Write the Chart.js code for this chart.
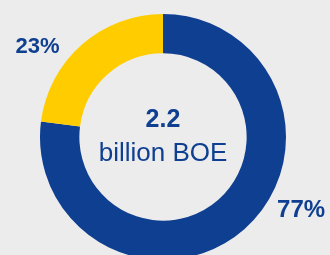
<!DOCTYPE html>
<html>
<head>
<meta charset="utf-8">
<script src="https://cdn.jsdelivr.net/npm/chart.js@4"></script>
<style>
    html, body { margin: 0; padding: 0; background: #ececec; overflow: hidden; }
    #wrap { width: 330px; height: 275px; }
</style>
</head>
<body>
<div id="wrap"><canvas id="reserves-chart" width="330" height="275"></canvas></div>
<script>
const categories = ['Blue', 'Yellow'];
const shares = [77, 23];
const shareLabels = ['77%', '23%'];
const centerValue = '2.2';
const centerUnit = 'billion BOE';

const colors = ['#0f3f90', '#ffcc00'];
// where each percent label sits: angle (deg, canvas coords) and distance in outer radii
const labelSpots = [
    { angle: 30, dist: 1.296, size: 24 },
    { angle: 213.9, dist: 1.229, size: 22 },
];

const donutText = {
    id: 'donutText',
    afterDraw(chart) {
        const ctx = chart.ctx;
        const arc = chart.getDatasetMeta(0).data[0];
        const cx = arc.x, cy = arc.y, r = arc.outerRadius;
        ctx.save();
        ctx.fillStyle = '#0f3f90';
        ctx.textAlign = 'center';
        ctx.textBaseline = 'alphabetic';

        ctx.font = 'bold 25px "Liberation Sans", Arial, sans-serif';
        ctx.fillText(centerValue, cx, cy - 10);
        ctx.font = '26px "Liberation Sans", Arial, sans-serif';
        ctx.fillText(centerUnit, cx, cy + 24);

        shareLabels.forEach((txt, i) => {
            const spot = labelSpots[i];
            const a = spot.angle * Math.PI / 180;
            ctx.font = `bold ${spot.size}px "Liberation Sans", Arial, sans-serif`;
            ctx.fillText(txt, cx + Math.cos(a) * r * spot.dist, cy + Math.sin(a) * r * spot.dist);
        });
        ctx.restore();
    }
};

const ctx = document.getElementById('reserves-chart').getContext('2d');

new Chart(ctx, {
    type: 'doughnut',
    data: {
        labels: categories,
        datasets: [{
            data: shares,
            backgroundColor: colors,
            borderWidth: 0,
        }]
    },
    options: {
        responsive: false,
        animation: false,
        cutout: '68%',
        layout: {
            padding: { top: 14, bottom: 15, left: 40, right: 44 }
        },
        plugins: {
            legend: { display: false },
            tooltip: { enabled: false },
        },
    },
    plugins: [donutText]
});
</script>
</body>
</html>
